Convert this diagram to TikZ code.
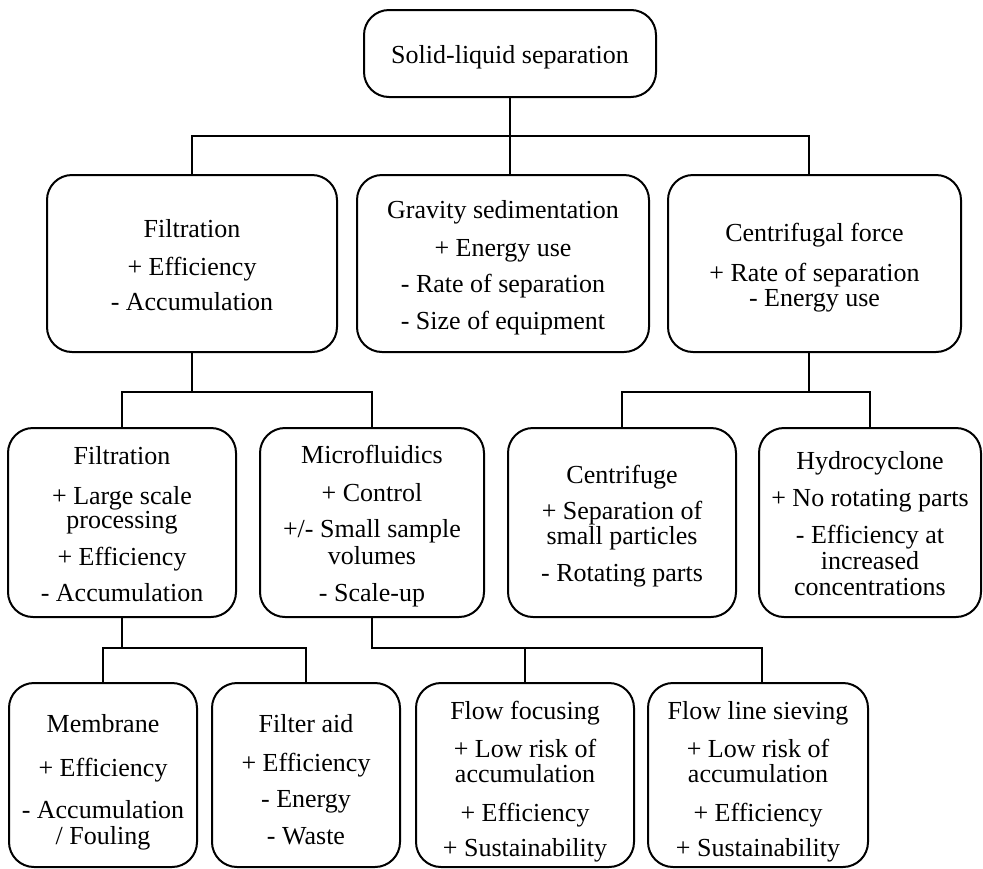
\documentclass[tikz,border=0pt]{standalone}
\usepackage{fontspec}
\setmainfont{Liberation Serif}
\def\hA{\rule{0pt}{27pt}}
\def\hC{\rule{0pt}{33pt}}
\def\dA{\rule[-7pt]{0pt}{0pt}}
\begin{document}
\begin{tikzpicture}[x=1pt,y=-1pt,line width=2pt,
  blk/.style={draw,rounded corners=25pt,align=center,inner sep=0pt,font=\fontsize{26}{25}\selectfont},
  lvA/.style={blk,minimum height=177pt},
  lvB/.style={blk,minimum height=189pt},
  lvC/.style={blk,minimum height=184pt}]
  \useasboundingbox (0,0) rectangle (983,868);
  \node[blk,minimum width=292pt,minimum height=87pt] (top) at (510,53.5) {\hA Solid-liquid separation\dA};
  \node[lvA,minimum width=290pt] (filt) at (192,263.5) {\hA Filtration\\[13pt]+ Efficiency\\[10pt]- Accumulation\dA};
  \node[lvA,minimum width=292pt] (grav) at (503,263.5) {\hA Gravity sedimentation\\[13pt]+ Energy use\\[11pt]- Rate of separation\\[12pt]- Size of equipment\dA};
  \node[lvA,minimum width=293pt] (cent) at (814.5,263.5) {\hA Centrifugal force\\[15pt]+ Rate of separation\\- Energy use\dA};
  \node[lvB,minimum width=228pt] (filt2) at (122,522.5) {\hA Filtration\\[15pt]+ Large scale\\[-1pt]processing\\[12pt]+ Efficiency\\[11pt]- Accumulation\dA};
  \node[lvB,minimum width=224pt] (micro) at (372,522.5) {\hA Microfluidics\\[13pt]+ Control\\[11pt]+/- Small sample\\[2pt]volumes\\[12pt]- Scale-up\dA};
  \node[lvB,minimum width=228pt] (cfuge) at (622,522.5) {\hA Centrifuge\\[11pt]+ Separation of\\small particles\\[12pt]- Rotating parts\dA};
  \node[lvB,minimum width=222pt] (hydro) at (870,522.5) {\hA Hydrocyclone\\[12pt]+ No rotating parts\\[12pt]- Efficiency at\\[1pt]increased\\[1pt]concentrations\dA};
  \node[lvC,minimum width=188pt] (memb) at (103,775) {\hC Membrane\\[19pt]+ Efficiency\\[17pt]- Accumulation\\[1pt]/ Fouling\dA};
  \node[lvC,minimum width=188pt] (faid) at (306,775) {\hC Filter aid\\[14pt]+ Efficiency\\[11pt]- Energy\\[12pt]- Waste\dA};
  \node[lvC,minimum width=218pt] (ffoc) at (525,775) {\hC Flow focusing\\[13pt]+ Low risk of\\accumulation\\[14pt]+ Efficiency\\[10pt]+ Sustainability\dA};
  \node[lvC,minimum width=220pt] (fsiev) at (758,775) {\hC Flow line sieving\\[13pt]+ Low risk of\\accumulation\\[14pt]+ Efficiency\\[10pt]+ Sustainability\dA};
  \coordinate (b1) at (510,136);
  \coordinate (b2) at (192,392);
  \coordinate (b3) at (809,392);
  \coordinate (b4) at (122,648);
  \coordinate (b5) at (372,648);
  \draw (top.south) -- (b1) -- (b1 |- grav.north);
  \draw (filt.north) |- (b1) -| ([xshift=-5.5pt]cent.north);
  \draw (filt.south) -- (b2);
  \draw (filt2.north) |- (b2) -| (micro.north);
  \draw ([xshift=-5.5pt]cent.south) -- (b3);
  \draw (cfuge.north) |- (b3) -| (hydro.north);
  \draw (filt2.south) -- (b4);
  \draw (memb.north) |- (b4) -| (faid.north);
  \draw (micro.south) -- (b5) -| ([xshift=4pt]fsiev.north);
  \draw (ffoc.north) -- (ffoc.north |- b5);
\end{tikzpicture}
\end{document}
